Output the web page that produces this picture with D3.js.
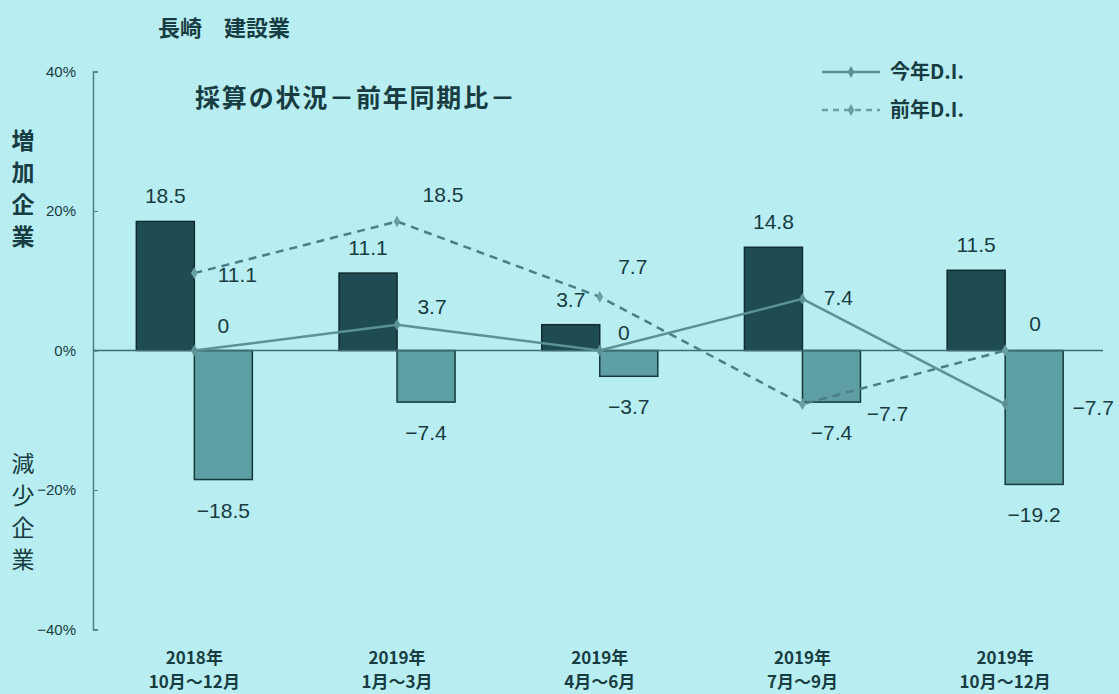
<!DOCTYPE html>
<html>
<head>
<meta charset="utf-8">
<script src="https://cdn.jsdelivr.net/npm/d3@7"></script>
<style>
  body { margin: 0; background: #b8edf2; }
  svg { display: block; }
  text { fill: #173d42; }
</style>
</head>
<body>
<div class="chart"></div>
<script>
// chart data
var periods = ["2018年|10月～12月", "2019年|1月～3月", "2019年|4月～6月", "2019年|7月～9月", "2019年|10月～12月"];
var increase = [18.5, 11.1, 3.7, 14.8, 11.5];
var decrease = [-18.5, -7.4, -3.7, -7.4, -19.2];
var thisYearDI = [0, 3.7, 0, 7.4, -7.7];
var lastYearDI = [11.1, 18.5, 7.7, -7.7, 0];
var yTicks = [40, 20, 0, -20, -40];

var svgWidth = 1119;
var svgHeight = 694;

var numFont = "'Liberation Sans', Arial, sans-serif";
var jpFont = "'Noto Sans CJK JP', sans-serif";

var svg = d3.select(".chart")
  .append("svg")
  .attr("width", svgWidth)
  .attr("height", svgHeight);

svg.append("rect")
  .attr("width", svgWidth)
  .attr("height", svgHeight)
  .attr("fill", "#b8edf2");

// scales
var x0 = d3.scaleBand()
  .domain(periods)
  .range([93, 1106.5]);

var x1 = d3.scaleBand()
  .domain(["inc", "dec"])
  .range([0, x0.bandwidth()])
  .paddingOuter(0.747);

var y = d3.scaleLinear()
  .domain([-40, 40])
  .range([629.5, 71.5]);

var cx = function (i) { return x0(periods[i]) + x0.bandwidth() / 2; };

// y axis
var leftAxis = d3.axisRight(y)
  .tickValues(yTicks)
  .tickSize(5)
  .tickFormat("");

var axisG = svg.append("g")
  .attr("transform", "translate(93, 0)")
  .call(leftAxis);
axisG.select(".domain").attr("stroke", "#4f7f85").attr("stroke-width", 1.5);
axisG.selectAll(".tick line").attr("stroke", "#4f7f85");

svg.selectAll(".ytick")
  .data(yTicks)
  .enter()
  .append("text")
  .attr("class", "ytick")
  .attr("x", 76)
  .attr("y", d => y(d) + 5)
  .attr("text-anchor", "end")
  .style("font-family", numFont)
  .style("font-size", "15px")
  .text(d => (d < 0 ? "−" + Math.abs(d) : d) + "%");

// bars
var groups = svg.selectAll(".grp")
  .data(periods)
  .enter()
  .append("g")
  .attr("class", "grp")
  .attr("transform", d => `translate(${x0(d)}, 0)`);

groups.append("rect")
  .attr("x", x1("inc"))
  .attr("width", x1.bandwidth())
  .attr("y", (d, i) => y(increase[i]))
  .attr("height", (d, i) => y(0) - y(increase[i]))
  .attr("fill", "#1f4c53")
  .attr("stroke", "#0f2c30")
  .attr("stroke-width", 1.5);

groups.append("rect")
  .attr("x", x1("dec"))
  .attr("width", x1.bandwidth())
  .attr("y", y(0))
  .attr("height", (d, i) => y(decrease[i]) - y(0))
  .attr("fill", "#5e9fa4")
  .attr("stroke", "#15393d")
  .attr("stroke-width", 1.5);

// bar labels
groups.append("text")
  .attr("x", x1("inc") + x1.bandwidth() / 2)
  .attr("y", (d, i) => y(increase[i]) - 18)
  .attr("text-anchor", "middle")
  .style("font-family", numFont)
  .style("font-size", "21px")
  .text((d, i) => increase[i]);

groups.append("text")
  .attr("x", x1("dec") + x1.bandwidth() / 2)
  .attr("y", (d, i) => y(decrease[i]) + 38)
  .attr("text-anchor", "middle")
  .style("font-family", numFont)
  .style("font-size", "21px")
  .text((d, i) => "−" + Math.abs(decrease[i]));

// zero line
svg.append("line")
  .attr("x1", 93)
  .attr("x2", 1103)
  .attr("y1", y(0))
  .attr("y2", y(0))
  .attr("stroke", "#3d6e73")
  .attr("stroke-width", 1.5);

// D.I. lines
var line = d3.line()
  .x((d, i) => cx(i))
  .y(d => y(d));

svg.append("path")
  .datum(lastYearDI)
  .attr("d", line)
  .attr("fill", "none")
  .attr("stroke", "#4a7f85")
  .attr("stroke-width", 2.5)
  .attr("stroke-dasharray", "8,6");

svg.append("path")
  .datum(thisYearDI)
  .attr("d", line)
  .attr("fill", "none")
  .attr("stroke", "#5c9196")
  .attr("stroke-width", 2.5);

var diamond = d3.symbol().type(d3.symbolDiamond).size(40);

svg.selectAll(".mk")
  .data(thisYearDI)
  .enter()
  .append("path")
  .attr("class", "mk")
  .attr("d", diamond)
  .attr("transform", (d, i) => `translate(${cx(i)}, ${y(d)})`)
  .attr("fill", "#5c9196");

svg.selectAll(".mk2")
  .data(lastYearDI)
  .enter()
  .append("path")
  .attr("class", "mk2")
  .attr("d", diamond)
  .attr("transform", (d, i) => `translate(${cx(i)}, ${y(d)})`)
  .attr("fill", "#6a9fa4");

// line labels (offsets from the point)
var fmt = v => (v < 0 ? "−" + Math.abs(v) : String(v));
var thisOff = [[29, -18], [35, -11], [24, -11], [36, 6], [88, 11]];
var lastOff = [[43, 9], [46, -19], [33, -23], [85, 17], [30, -20]];

svg.selectAll(".lbl1")
  .data(thisYearDI)
  .enter()
  .append("text")
  .attr("x", (d, i) => cx(i) + thisOff[i][0])
  .attr("y", (d, i) => y(d) + thisOff[i][1])
  .attr("text-anchor", "middle")
  .style("font-family", numFont)
  .style("font-size", "21px")
  .text(fmt);

svg.selectAll(".lbl2")
  .data(lastYearDI)
  .enter()
  .append("text")
  .attr("x", (d, i) => cx(i) + lastOff[i][0])
  .attr("y", (d, i) => y(d) + lastOff[i][1])
  .attr("text-anchor", "middle")
  .style("font-family", numFont)
  .style("font-size", "21px")
  .text(fmt);

// x axis labels
var xl = svg.selectAll(".xl")
  .data(periods)
  .enter()
  .append("text")
  .attr("text-anchor", "middle")
  .style("font-family", jpFont)
  .style("font-weight", "bold")
  .style("font-size", "17px");

xl.append("tspan")
  .attr("x", (d, i) => cx(i))
  .attr("y", 664)
  .text(d => d.split("|")[0]);

xl.append("tspan")
  .attr("x", (d, i) => cx(i))
  .attr("y", 688)
  .text(d => d.split("|")[1]);

// titles
svg.append("text")
  .attr("x", 158)
  .attr("y", 36)
  .style("font-family", jpFont)
  .style("font-weight", "bold")
  .style("font-size", "22px")
  .text("長崎　建設業");

svg.append("text")
  .attr("x", 195)
  .attr("y", 107)
  .attr("textLength", 320)
  .attr("lengthAdjust", "spacing")
  .style("font-family", jpFont)
  .style("font-weight", "bold")
  .style("font-size", "25px")
  .text("採算の状況－前年同期比－");

// side labels
"増加企業".split("").forEach(function (ch, i) {
  svg.append("text")
    .attr("x", 23)
    .attr("y", 149 + i * 32)
    .attr("text-anchor", "middle")
    .style("font-family", jpFont)
    .style("font-weight", "bold")
    .style("font-size", "23px")
    .text(ch);
});

"減少企業".split("").forEach(function (ch, i) {
  svg.append("text")
    .attr("x", 23)
    .attr("y", 472 + i * 32)
    .attr("text-anchor", "middle")
    .style("font-family", jpFont)
    .style("font-size", "23px")
    .text(ch);
});

// legend
var legend = [
  { name: "今年D.I.", dash: null, color: "#5c9196" },
  { name: "前年D.I.", dash: "6,5", color: "#6a9fa4" }
];

legend.forEach(function (d, i) {
  var ly = 72 + i * 38;
  svg.append("line")
    .attr("x1", 822)
    .attr("x2", 880)
    .attr("y1", ly)
    .attr("y2", ly)
    .attr("stroke", d.color)
    .attr("stroke-width", 2.5)
    .attr("stroke-dasharray", d.dash);
  svg.append("path")
    .attr("d", diamond)
    .attr("transform", `translate(851, ${ly})`)
    .attr("fill", d.color);
  svg.append("text")
    .attr("x", 890)
    .attr("y", ly + 7)
    .style("font-family", jpFont)
    .style("font-weight", "bold")
    .style("font-size", "20px")
    .text(d.name);
});
</script>
</body>
</html>
